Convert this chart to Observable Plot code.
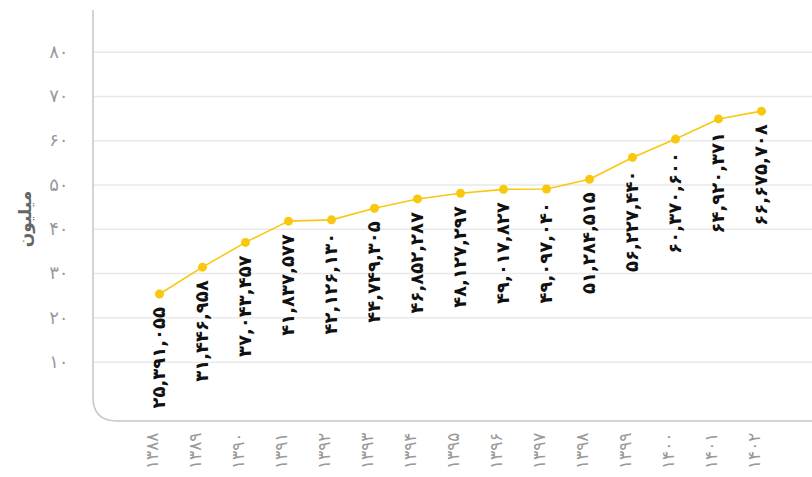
<!DOCTYPE html>
<html>
<head>
<meta charset="utf-8">
<script src="https://cdn.jsdelivr.net/npm/d3@7"></script>
<script src="https://cdn.jsdelivr.net/npm/@observablehq/plot@0.6"></script>
<style>
  html, body { margin: 0; padding: 0; background: #fff; }
  #chart svg { display: block; font-family: "DejaVu Sans", sans-serif; }
</style>
</head>
<body>
<div id="chart"></div>
<script>
const years = [1388, 1389, 1390, 1391, 1392, 1393, 1394, 1395, 1396, 1397, 1398, 1399, 1400, 1401, 1402];
const users = [25391055, 31446958, 37043457, 41837577, 42126130, 44749305, 46852287, 48127297, 49017827, 49097040, 51284515, 56227440, 60370600, 64920371, 66675708];
const yTicks = [10, 20, 30, 40, 50, 60, 70, 80];
const yTitle = "میلیون";

const faDigits = "۰۱۲۳۴۵۶۷۸۹";
const fa = s => String(s).replace(/\d/g, d => faDigits[d]);

const data = years.map((yr, i) => ({year: yr, value: users[i] / 1e6, raw: users[i]}));

const W = 812, H = 477;
const lineColor = "#f9c80e";

const frameMark = (index, scales, values, dim) => {
  const x0 = dim.marginLeft, y0 = dim.marginTop, yb = dim.height - dim.marginBottom, r = 24;
  const p = d3.create("svg:path")
    .attr("d", `M${x0},${y0} V${yb - r} Q${x0},${yb} ${x0 + r},${yb} H${dim.width}`)
    .attr("fill", "none")
    .attr("stroke", "#c6c6c6")
    .attr("stroke-width", 1.5);
  return p.node();
};

const plot = Plot.plot({
  width: W,
  height: H,
  marginLeft: 93,
  marginRight: 0,
  marginTop: 10,
  marginBottom: 56,
  style: {fontFamily: "DejaVu Sans, sans-serif", background: "#fff"},
  x: {type: "point", domain: years, insetLeft: 60, insetRight: 45, padding: 0},
  y: {domain: [-3.4, 89.4]},
  marks: [
    Plot.ruleY(yTicks, {stroke: "#e9e9e9", strokeWidth: 1.5}),
    frameMark,
    Plot.axisY(yTicks, {
      tickSize: 0, tickPadding: 25, tickFormat: fa, fontSize: 18,
      fill: "#999", label: null
    }),
    Plot.axisX({
      tickSize: 0, tickPadding: 11, tickRotate: -90, tickFormat: fa,
      fontSize: 17, fill: "#999", dx: -7, label: null
    }),
    Plot.text([yTitle], {
      frameAnchor: "left", rotate: -90, textAnchor: "middle", dx: -68, dy: 3,
      fontSize: 17, fontWeight: "bold", fill: "#666"
    }),
    Plot.line(data, {x: "year", y: "value", stroke: lineColor, strokeWidth: 1.6}),
    Plot.dot(data, {x: "year", y: "value", r: 4.5, fill: lineColor, stroke: "none"}),
    Plot.text(data, {
      x: "year", y: "value", text: d => fa(d3.format(",")(d.raw)),
      rotate: -90, textAnchor: "end", dy: 13,
      fontSize: 18, fontWeight: "bold", fill: "#111"
    })
  ]
});

document.getElementById("chart").append(plot);
</script>
</body>
</html>
